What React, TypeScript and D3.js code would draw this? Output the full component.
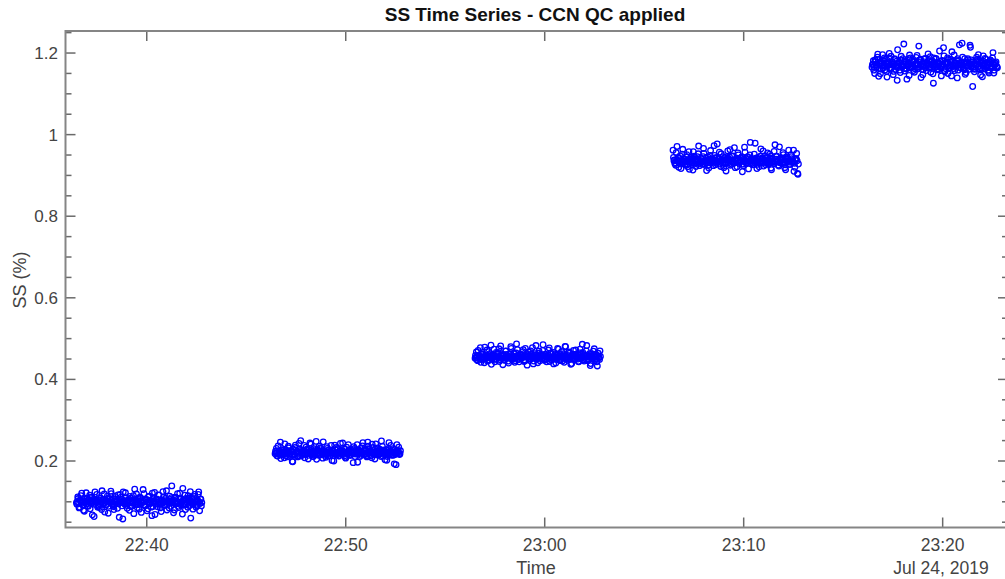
import React from "react";
import * as d3 from "d3";

// Start time of each SS step (UTC, Jul 24 2019) and step duration in seconds
const stepStarts: string[] = ["22:36:28", "22:46:27", "22:56:30", "23:06:27", "23:16:27"];
const stepSeconds = 378;

// Each step: three interleaved sample sets (A, B, C), in time order
const ss010A: number[] = [
  0.098,0.112,0.085,0.104,0.121,0.093,0.077,0.101,0.108,0.089,
  0.116,0.097,0.068,0.105,0.124,0.099,0.087,0.110,0.094,0.081,
  0.103,0.119,0.092,0.100,0.072,0.107,0.126,0.096,0.088,0.113,
  0.101,0.084,0.095,0.118,0.106,0.058,0.099,0.122,0.091,0.104,
  0.079,0.109,0.097,0.115,0.131,0.093,0.086,0.102,0.111,0.074,
  0.098,0.120,0.090,0.105,0.083,0.114,0.096,0.066,0.108,0.123,
  0.100,0.088,0.117,0.094,0.076,0.103,0.112,0.092,0.127,0.099,
  0.085,0.106,0.139,0.097,0.080,0.110,0.101,0.089,0.121,0.095,
  0.070,0.104,0.116,0.093,0.087,0.109,0.125,0.098,0.082,0.113,
  0.100,0.091,0.118,0.078,0.106,
];
const ss010B: number[] = [
  0.094,0.108,0.087,0.115,0.101,0.079,0.097,0.122,0.090,0.106,
  0.083,0.111,0.099,0.064,0.103,0.118,0.092,0.086,0.109,0.127,
  0.096,0.075,0.104,0.114,0.089,0.100,0.120,0.093,0.081,0.107,
  0.098,0.117,0.062,0.102,0.090,0.124,0.095,0.110,0.084,0.101,
  0.113,0.088,0.097,0.071,0.105,0.119,0.093,0.082,0.108,0.099,
  0.130,0.091,0.104,0.078,0.112,0.096,0.087,0.121,0.100,0.069,
  0.106,0.094,0.116,0.085,0.102,0.125,0.091,0.109,0.080,0.098,
  0.114,0.089,0.103,0.073,0.111,0.095,0.120,0.086,0.107,0.097,
  0.133,0.092,0.081,0.105,0.115,0.099,0.060,0.110,0.094,0.118,
  0.087,0.102,0.124,0.096,0.090,
];
const ss010C: number[] = [
  0.101,0.096,0.104,0.099,0.092,0.107,0.100,0.095,0.103,0.098,
  0.110,0.097,0.102,0.094,0.105,0.100,0.089,0.103,0.099,0.106,
  0.096,0.101,0.093,0.108,0.100,0.097,0.104,0.091,0.102,0.099,
  0.105,0.095,0.100,0.111,0.098,0.103,0.094,0.101,0.097,0.106,
  0.090,0.102,0.099,0.104,0.096,0.100,0.109,0.095,0.103,0.098,
  0.101,0.093,0.106,0.099,0.097,0.104,0.100,0.088,0.102,0.096,
  0.107,0.099,0.101,0.094,0.103,0.098,0.105,0.100,0.092,0.102,
  0.097,0.110,0.099,0.104,0.095,0.101,0.098,0.106,0.093,0.100,
  0.103,0.096,0.108,0.099,0.102,0.091,0.100,0.105,0.097,0.101,
  0.094,0.103,0.099,0.107,0.098,
];
const ss022A: number[] = [
  0.218,0.231,0.212,0.225,0.246,0.215,0.222,0.208,0.228,0.219,
  0.236,0.214,0.224,0.199,0.217,0.233,0.221,0.210,0.243,0.226,
  0.213,0.220,0.238,0.216,0.229,0.205,0.223,0.241,0.218,0.211,
  0.227,0.248,0.219,0.214,0.232,0.222,0.207,0.225,0.217,0.235,
  0.212,0.228,0.220,0.201,0.224,0.239,0.216,0.230,0.213,0.226,
  0.219,0.244,0.221,0.209,0.234,0.217,0.227,0.214,0.223,0.196,
  0.231,0.218,0.240,0.225,0.211,0.222,0.237,0.216,0.229,0.213,
  0.246,0.220,0.226,0.208,0.233,0.219,0.242,0.224,0.215,0.229,
  0.211,0.236,0.221,0.203,0.227,0.217,0.245,0.223,0.214,0.230,
  0.193,0.219,0.240,0.225,0.216,
];
const ss022B: number[] = [
  0.224,0.213,0.237,0.219,0.206,0.228,0.216,0.242,0.221,0.210,
  0.232,0.218,0.225,0.198,0.215,0.239,0.223,0.212,0.229,0.250,
  0.217,0.226,0.208,0.234,0.220,0.214,0.244,0.222,0.211,0.230,
  0.219,0.204,0.227,0.236,0.215,0.223,0.247,0.218,0.209,0.231,
  0.221,0.213,0.238,0.226,0.200,0.217,0.233,0.220,0.212,0.243,
  0.225,0.216,0.229,0.207,0.222,0.240,0.214,0.227,0.219,0.235,
  0.211,0.224,0.197,0.218,0.231,0.222,0.245,0.215,0.228,0.210,
  0.236,0.220,0.213,0.241,0.226,0.205,0.219,0.232,0.217,0.224,
  0.249,0.212,0.227,0.221,0.202,0.230,0.216,0.238,0.223,0.214,
  0.228,0.191,0.220,0.234,0.218,
];
const ss022C: number[] = [
  0.220,0.224,0.217,0.222,0.215,0.226,0.219,0.223,0.213,0.221,
  0.225,0.218,0.222,0.229,0.216,0.221,0.224,0.219,0.212,0.223,
  0.220,0.226,0.217,0.222,0.218,0.228,0.221,0.215,0.224,0.219,
  0.222,0.216,0.225,0.220,0.230,0.218,0.223,0.214,0.221,0.226,
  0.219,0.222,0.217,0.224,0.220,0.227,0.215,0.221,0.223,0.218,
  0.225,0.220,0.213,0.222,0.219,0.224,0.216,0.221,0.228,0.220,
  0.217,0.223,0.219,0.226,0.214,0.222,0.220,0.225,0.218,0.221,
  0.229,0.216,0.223,0.219,0.222,0.215,0.224,0.220,0.227,0.218,
  0.221,0.225,0.217,0.222,0.211,0.220,0.224,0.219,0.226,0.221,
  0.216,0.223,0.220,0.218,0.225,
];
const ss045A: number[] = [
  0.452,0.467,0.446,0.458,0.478,0.449,0.461,0.441,0.455,0.472,
  0.447,0.463,0.484,0.451,0.458,0.443,0.466,0.454,0.475,0.448,
  0.460,0.436,0.453,0.469,0.457,0.445,0.462,0.480,0.450,0.456,
  0.442,0.465,0.473,0.449,0.459,0.452,0.468,0.444,0.476,0.455,
  0.461,0.447,0.470,0.453,0.438,0.458,0.483,0.451,0.464,0.446,
  0.457,0.471,0.450,0.462,0.443,0.456,0.477,0.454,0.448,0.466,
  0.452,0.440,0.460,0.474,0.449,0.458,0.445,0.463,0.481,0.453,
  0.447,0.467,0.455,0.439,0.461,0.450,0.472,0.457,0.444,0.465,
  0.452,0.486,0.448,0.459,0.470,0.446,0.456,0.434,0.462,0.451,
  0.475,0.457,0.443,0.464,0.449,
];
const ss045B: number[] = [
  0.459,0.448,0.471,0.455,0.442,0.463,0.451,0.479,0.457,0.445,
  0.468,0.453,0.437,0.460,0.474,0.449,0.456,0.466,0.444,0.482,
  0.452,0.461,0.447,0.470,0.458,0.440,0.454,0.476,0.450,0.464,
  0.446,0.487,0.456,0.443,0.462,0.453,0.473,0.448,0.459,0.435,
  0.467,0.451,0.457,0.478,0.445,0.463,0.454,0.441,0.469,0.452,
  0.460,0.485,0.447,0.458,0.450,0.472,0.444,0.465,0.455,0.438,
  0.461,0.449,0.476,0.456,0.446,0.468,0.453,0.442,0.480,0.459,
  0.451,0.464,0.437,0.457,0.471,0.448,0.462,0.454,0.443,0.474,
  0.452,0.466,0.445,0.459,0.483,0.450,0.463,0.439,0.456,0.469,
  0.447,0.460,0.433,0.455,0.470,
];
const ss045C: number[] = [
  0.454,0.458,0.451,0.456,0.462,0.449,0.455,0.459,0.452,0.457,
  0.447,0.455,0.460,0.453,0.456,0.450,0.458,0.463,0.454,0.452,
  0.457,0.448,0.455,0.461,0.453,0.456,0.451,0.459,0.454,0.464,
  0.452,0.457,0.449,0.455,0.460,0.453,0.456,0.446,0.458,0.454,
  0.451,0.457,0.462,0.453,0.455,0.459,0.450,0.456,0.454,0.461,
  0.452,0.458,0.448,0.455,0.457,0.453,0.463,0.454,0.450,0.456,
  0.459,0.452,0.455,0.447,0.457,0.454,0.460,0.451,0.456,0.453,
  0.458,0.449,0.455,0.462,0.452,0.457,0.454,0.450,0.459,0.455,
  0.453,0.461,0.451,0.456,0.458,0.448,0.454,0.457,0.452,0.460,
  0.455,0.450,0.458,0.453,0.456,
];
const ss093A: number[] = [
  0.962,0.938,0.925,0.971,0.944,0.930,0.917,0.952,0.936,0.928,
  0.945,0.921,0.958,0.933,0.940,0.913,0.947,0.929,0.937,0.953,
  0.924,0.941,0.932,0.966,0.927,0.943,0.935,0.918,0.949,0.931,
  0.939,0.973,0.926,0.944,0.934,0.957,0.922,0.938,0.946,0.930,
  0.911,0.942,0.936,0.963,0.928,0.948,0.933,0.919,0.940,0.955,
  0.929,0.937,0.945,0.924,0.969,0.934,0.941,0.916,0.950,0.932,
  0.939,0.927,0.979,0.943,0.935,0.921,0.947,0.931,0.960,0.938,
  0.926,0.944,0.933,0.952,0.918,0.940,0.929,0.975,0.946,0.934,
  0.923,0.942,0.937,0.956,0.930,0.914,0.945,0.939,0.927,0.951,
  0.935,0.962,0.920,0.941,0.905,
];
const ss093B: number[] = [
  0.944,0.929,0.956,0.937,0.920,0.948,0.933,0.964,0.940,0.926,
  0.951,0.935,0.915,0.943,0.930,0.958,0.938,0.922,0.946,0.972,
  0.932,0.941,0.927,0.954,0.936,0.912,0.945,0.931,0.961,0.939,
  0.924,0.949,0.934,0.977,0.942,0.928,0.953,0.937,0.919,0.944,
  0.930,0.960,0.940,0.925,0.947,0.933,0.968,0.938,0.921,0.950,
  0.935,0.943,0.909,0.939,0.957,0.929,0.946,0.934,0.981,0.941,
  0.926,0.952,0.937,0.917,0.944,0.931,0.965,0.940,0.923,0.948,
  0.936,0.955,0.928,0.942,0.914,0.939,0.959,0.933,0.947,0.925,
  0.970,0.938,0.930,0.951,0.919,0.943,0.935,0.962,0.927,0.946,
  0.932,0.910,0.940,0.954,0.903,
];
const ss093C: number[] = [
  0.936,0.931,0.939,0.934,0.942,0.928,0.937,0.933,0.940,0.935,
  0.926,0.938,0.932,0.944,0.936,0.930,0.939,0.934,0.941,0.929,
  0.937,0.933,0.946,0.935,0.931,0.938,0.925,0.936,0.940,0.933,
  0.937,0.943,0.930,0.935,0.939,0.932,0.936,0.927,0.941,0.934,
  0.938,0.931,0.945,0.936,0.933,0.929,0.939,0.935,0.942,0.932,
  0.937,0.934,0.928,0.940,0.936,0.931,0.944,0.935,0.938,0.930,
  0.936,0.941,0.933,0.927,0.939,0.935,0.932,0.943,0.937,0.934,
  0.930,0.938,0.935,0.947,0.933,0.936,0.929,0.940,0.934,0.938,
  0.931,0.936,0.942,0.933,0.926,0.939,0.935,0.937,0.932,0.941,
  0.934,0.930,0.938,0.936,0.928,
];
const ss117A: number[] = [
  1.165,1.181,1.150,1.172,1.190,1.143,1.177,1.160,1.196,1.169,
  1.184,1.155,1.174,1.199,1.163,1.178,1.147,1.186,1.170,1.133,
  1.176,1.158,1.192,1.168,1.222,1.181,1.161,1.174,1.145,1.188,
  1.166,1.179,1.153,1.171,1.194,1.162,1.183,1.140,1.175,1.167,
  1.187,1.157,1.172,1.164,1.191,1.178,1.149,1.170,1.185,1.159,
  1.176,1.205,1.166,1.182,1.213,1.154,1.173,1.188,1.162,1.179,
  1.144,1.171,1.195,1.168,1.181,1.158,1.220,1.175,1.224,1.163,
  1.186,1.152,1.177,1.169,1.219,1.183,1.118,1.172,1.160,1.190,
  1.166,1.179,1.146,1.174,1.193,1.161,1.185,1.170,1.155,1.178,
  1.164,1.188,1.151,1.175,1.167,
];
const ss117B: number[] = [
  1.171,1.158,1.183,1.166,1.197,1.175,1.149,1.180,1.163,1.188,
  1.169,1.141,1.177,1.160,1.192,1.173,1.155,1.184,1.167,1.208,
  1.176,1.152,1.170,1.186,1.162,1.179,1.136,1.174,1.195,1.165,
  1.182,1.157,1.172,1.189,1.161,1.217,1.178,1.168,1.147,1.185,
  1.164,1.176,1.198,1.170,1.153,1.181,1.126,1.173,1.187,1.166,
  1.159,1.180,1.144,1.174,1.193,1.162,1.178,1.150,1.169,1.184,
  1.203,1.167,1.157,1.176,1.139,1.182,1.171,1.163,1.190,1.175,
  1.148,1.168,1.186,1.160,1.214,1.177,1.165,1.154,1.181,1.172,
  1.196,1.161,1.179,1.142,1.170,1.187,1.164,1.176,1.151,1.183,
  1.169,1.201,1.158,1.174,1.166,
];
const ss117C: number[] = [
  1.173,1.166,1.179,1.170,1.184,1.162,1.175,1.169,1.181,1.158,
  1.174,1.168,1.187,1.171,1.163,1.177,1.172,1.160,1.180,1.167,
  1.175,1.183,1.165,1.172,1.156,1.178,1.170,1.186,1.164,1.174,
  1.169,1.180,1.161,1.176,1.171,1.166,1.185,1.173,1.159,1.178,
  1.168,1.175,1.182,1.163,1.172,1.170,1.188,1.166,1.176,1.161,
  1.174,1.179,1.167,1.171,1.157,1.177,1.173,1.184,1.165,1.170,
  1.180,1.162,1.175,1.169,1.186,1.172,1.164,1.178,1.170,1.159,
  1.176,1.168,1.183,1.173,1.166,1.179,1.161,1.174,1.171,1.185,
  1.167,1.175,1.163,1.180,1.172,1.169,1.177,1.158,1.174,1.181,
  1.166,1.173,1.170,1.178,1.164,
];
const stepsA: number[][] = [ss010A, ss022A, ss045A, ss093A, ss117A];
const stepsB: number[][] = [ss010B, ss022B, ss045B, ss093B, ss117B];
const stepsC: number[][] = [ss010C, ss022C, ss045C, ss093C, ss117C];

const xTickLabels: string[] = ["22:40", "22:50", "23:00", "23:10", "23:20"];
const yMajorTicks: number[] = [0.2, 0.4, 0.6, 0.8, 1, 1.2];
const yMinorTicks: number[] = [0.05, 0.1, 0.15, 0.25, 0.3, 0.35, 0.45, 0.5, 0.55, 0.65, 0.7, 0.75, 0.85, 0.9, 0.95, 1.05, 1.1, 1.15, 1.25];

const W = 1005;
const H = 579;
const M = { left: 65.5, right: 1008, top: 31, bottom: 527.5 };
const FONT = "'Liberation Sans', Arial, Helvetica, sans-serif";

const parseT = (s: string) => {
  const [h, m, sec] = s.split(":").map(Number);
  return new Date(Date.UTC(2019, 6, 24, h, m, sec || 0));
};

export default function App() {
  const x = d3
    .scaleUtc()
    .domain([parseT("22:35:55"), parseT("23:23:17")])
    .range([M.left, M.right]);
  const y = d3.scaleLinear().domain([0.037, 1.254]).range([M.bottom, M.top]);

  const points: { t: Date; v: number }[] = [];
  stepsA.forEach((a, k) => {
    const vals = d3.merge(d3.zip(a, stepsB[k], stepsC[k])) as number[];
    const t0 = parseT(stepStarts[k]).getTime();
    const dt = (stepSeconds * 1000) / (vals.length - 1);
    vals.forEach((v, i) => points.push({ t: new Date(t0 + i * dt), v }));
  });

  const axisColor = "#858585";
  const tickColor = "#6a6a6a";
  const textColor = "#444";

  return (
    <svg
      width={W}
      height={H}
      style={{ position: "absolute", left: 0, top: 0, background: "#fff" }}
    >
      <defs>
        <clipPath id="plotclip">
          <rect x={M.left} y={M.top} width={M.right - M.left} height={M.bottom - M.top} />
        </clipPath>
      </defs>
      <text
        x={535}
        y={21}
        textAnchor="middle"
        fontFamily={FONT}
        fontWeight="bold"
        fontSize={19}
        fill="#111"
      >
        SS Time Series - CCN QC applied
      </text>

      <g clipPath="url(#plotclip)">
        {points.map((p, i) => (
          <circle
            key={i}
            cx={x(p.t)}
            cy={y(p.v)}
            r={2.8}
            fill="none"
            stroke="#0000ff"
            strokeWidth={1.3}
          />
        ))}
      </g>

      {yMinorTicks.map((v) => (
        <g key={"mn" + v} stroke={tickColor} strokeWidth={1.5}>
          <line x1={M.left} x2={M.left + 6} y1={y(v)} y2={y(v)} />
          <line x1={M.right} x2={M.right - 6} y1={y(v)} y2={y(v)} />
        </g>
      ))}
      {yMajorTicks.map((v) => (
        <g key={"mj" + v}>
          <line x1={M.left} x2={M.left + 10} y1={y(v)} y2={y(v)} stroke={tickColor} strokeWidth={1.5} />
          <line x1={M.right} x2={M.right - 10} y1={y(v)} y2={y(v)} stroke={tickColor} strokeWidth={1.5} />
          <text
            x={58}
            y={y(v) + 6}
            textAnchor="end"
            fontFamily={FONT}
            fontSize={17}
            fill={textColor}
          >
            {d3.format("~g")(v)}
          </text>
        </g>
      ))}

      {xTickLabels.map((s) => {
        const xv = x(parseT(s + ":00"));
        return (
          <g key={s}>
            <line x1={xv} x2={xv} y1={M.bottom} y2={M.bottom - 10} stroke={tickColor} strokeWidth={1.5} />
            <line x1={xv} x2={xv} y1={M.top} y2={M.top + 10} stroke={tickColor} strokeWidth={1.5} />
            <text
              x={xv}
              y={551}
              textAnchor="middle"
              fontFamily={FONT}
              fontSize={17.5}
              fill={textColor}
            >
              {s}
            </text>
          </g>
        );
      })}

      <rect
        x={M.left}
        y={M.top}
        width={M.right - M.left}
        height={M.bottom - M.top}
        fill="none"
        stroke={axisColor}
        strokeWidth={2}
      />

      <text x={536} y={574} textAnchor="middle" fontFamily={FONT} fontSize={18} fill={textColor}>
        Time
      </text>
      <text x={941} y={574} textAnchor="middle" fontFamily={FONT} fontSize={17.5} fill={textColor}>
        Jul 24, 2019
      </text>
      <text
        transform="translate(26,280) rotate(-90)"
        textAnchor="middle"
        fontFamily={FONT}
        fontSize={18}
        fill={textColor}
      >
        SS (%)
      </text>
    </svg>
  );
}
